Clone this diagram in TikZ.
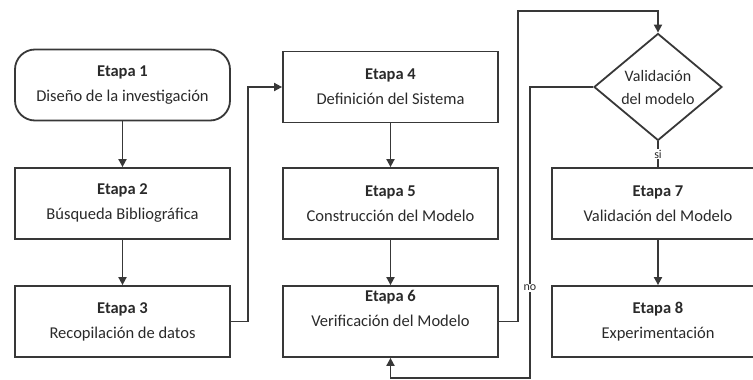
\documentclass[tikz,border=0pt]{standalone}
\usepackage{fontspec}
\setmainfont{Carlito}
\usetikzlibrary{shapes.geometric,arrows.meta}
\definecolor{ln}{HTML}{383838}
\definecolor{tx}{HTML}{2A2A2A}
\tikzset{
  txt/.style={font=\fontsize{16.5}{25}\selectfont, text=tx, align=center},
  stage/.style={txt, draw=ln, line width=1.8pt, rectangle, minimum width=215pt, minimum height=71pt, inner sep=0pt},
  roundstage/.style={stage, rounded corners=20pt},
  decision/.style={txt, draw=ln, line width=1.8pt, diamond, minimum width=128pt, minimum height=107pt, aspect=1.2, inner sep=0pt, font=\fontsize{16}{23}\selectfont},
  conn/.style={draw=ln, line width=1.8pt, -{Triangle[length=8pt,width=8pt]}},
  plain/.style={draw=ln, line width=1.8pt},
  lbl/.style={fill=white, font=\fontsize{12}{13}\selectfont, text=tx, inner sep=1pt}
}
\begin{document}
\begin{tikzpicture}[x=1pt,y=-1pt]
\useasboundingbox (0,0) rectangle (753,380);
\node[roundstage] (e1) at (122.5,85) {\textbf{Etapa 1}\\Diseño de la investigación};
\node[stage] (e2) at (122.5,203.5) {\textbf{Etapa 2}\\Búsqueda Bibliográfica};
\node[stage] (e3) at (122.5,321.5) {\textbf{Etapa 3}\\Recopilación de datos};
\node[stage] (e4) at (390.5,87) {\textbf{Etapa 4}\\Definición del Sistema};
\node[stage] (e5) at (390.5,203.5) {\textbf{Etapa 5}\\Construcción del Modelo};
\node[stage] (e6) at (390.5,321.5) {};
\node[txt, anchor=north, inner sep=0pt] (t6) at (390.5,290) {\textbf{Etapa 6}\\Verificación del Modelo};
\node[decision] (d) at (658,87) {Validación\\del modelo};
\node[stage, minimum width=212pt] (e7) at (658,203.5) {\textbf{Etapa 7}\\Validación del Modelo};
\node[stage, minimum width=212pt] (e8) at (658,321.5) {\textbf{Etapa 8}\\Experimentación};
\coordinate (c3a) at (248,321.5);
\coordinate (c3b) at (248,87);
\coordinate (c6a) at (518,321.5);
\coordinate (c6b) at (518,11);
\coordinate (c6c) at (658,11);
\coordinate (cna) at (530,87);
\coordinate (cnb) at (530,378);
\coordinate (cnc) at (390.5,378);
\draw[conn] (e1) -- (e2);
\draw[conn] (e2) -- (e3);
\draw[conn] (e3.east) -- (c3a) -- (c3b) -- (e4.west);
\draw[conn] (e4) -- (e5);
\draw[conn] (e5) -- (e6);
\draw[conn] (e6.east) -- (c6a) -- (c6b) -- (c6c) -- (d.north);
\draw[plain] (d.south) -- node[lbl, pos=0.5] {si} (e7.north);
\draw[conn] (e7) -- (e8);
\draw[conn] (d.west) -- (cna) -- node[lbl, pos=0.69] {no} (cnb) -- (cnc) -- (e6.south);
\end{tikzpicture}
\end{document}
